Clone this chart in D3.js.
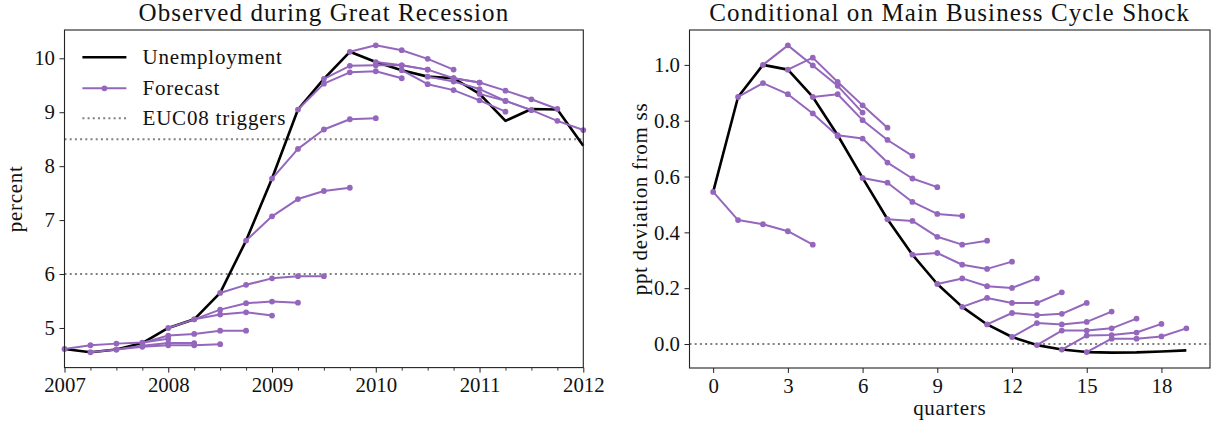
<!DOCTYPE html>
<html>
<head>
<meta charset="utf-8">
<script src="https://cdn.jsdelivr.net/npm/d3@7"></script>
<style>
  html, body { margin: 0; padding: 0; background: #fff; }
  svg text { font-family: "Liberation Serif", "DejaVu Serif", serif; fill: #111; }
</style>
</head>
<body>
<svg id="chart" width="1213" height="432"></svg>
<script>
// ---------------- DATA ----------------
// Left panel: observed quarterly unemployment rate (percent)
const leftQuarters = [2007.00, 2007.25, 2007.50, 2007.75, 2008.00, 2008.25, 2008.50, 2008.75,
  2009.00, 2009.25, 2009.50, 2009.75, 2010.00, 2010.25, 2010.50, 2010.75,
  2011.00, 2011.25, 2011.50, 2011.75, 2012.00];
const leftUnemployment = [4.61, 4.55, 4.60, 4.72, 5.00, 5.16, 5.65, 6.62,
  7.77, 9.05, 9.62, 10.12, 9.93, 9.78, 9.66, 9.63,
  9.34, 8.84, 9.06, 9.05, 8.38];
// Forecast origins (each forecast: origin quarter plus four quarters ahead)
const leftForecastStarts = [2007.00, 2007.25, 2007.50, 2007.75, 2008.00, 2008.25, 2008.50, 2008.75,
  2009.00, 2009.25, 2009.50, 2009.75, 2010.00, 2010.25, 2010.50, 2010.75, 2011.00];
const leftForecasts = [
  [4.61, 4.68, 4.71, 4.73, 4.80],
  [4.55, 4.60, 4.67, 4.72, 4.72],
  [4.60, 4.65, 4.68, 4.68, 4.70],
  [4.72, 4.86, 4.89, 4.95, 4.95],
  [5.00, 5.16, 5.25, 5.29, 5.23],
  [5.16, 5.34, 5.46, 5.49, 5.47],
  [5.65, 5.80, 5.92, 5.96, 5.96],
  [6.62, 7.07, 7.39, 7.54, 7.60],
  [7.77, 8.32, 8.68, 8.87, 8.89],
  [9.05, 9.53, 9.74, 9.76, 9.63],
  [9.62, 9.86, 9.87, 9.87, 9.79],
  [10.12, 10.24, 10.15, 9.99, 9.79],
  [9.93, 9.87, 9.79, 9.63, 9.55],
  [9.78, 9.52, 9.41, 9.22, 9.01],
  [9.66, 9.57, 9.43, 9.21, 9.04],
  [9.63, 9.55, 9.40, 9.24, 9.06],
  [9.34, 9.21, 9.04, 8.84, 8.67]
];
const leftTriggers = [8.5, 6.0];
const leftYearTicks = [2007, 2008, 2009, 2010, 2011, 2012];
const leftYTicks = [5, 6, 7, 8, 9, 10];

// Right panel: impulse response to main business cycle shock
const rightQuarters = [0, 1, 2, 3, 4, 5, 6, 7, 8, 9, 10, 11, 12, 13, 14, 15, 16, 17, 18, 19];
const rightIRF = [0.545, 0.885, 1.000, 0.983, 0.885, 0.748, 0.595, 0.447, 0.320, 0.215,
  0.133, 0.070, 0.025, -0.004, -0.020, -0.029, -0.031, -0.030, -0.027, -0.023];
const rightForecastStarts = [0, 1, 2, 3, 4, 5, 6, 7, 8, 9, 10, 11, 12, 13, 14, 15];
const rightForecasts = [
  [0.545, 0.444, 0.429, 0.404, 0.356],
  [0.885, 0.935, 0.895, 0.826, 0.745],
  [1.000, 1.070, 0.998, 0.925, 0.829],
  [0.983, 1.026, 0.939, 0.855, 0.775],
  [0.885, 0.895, 0.802, 0.731, 0.674],
  [0.748, 0.736, 0.650, 0.593, 0.562],
  [0.595, 0.578, 0.509, 0.466, 0.459],
  [0.447, 0.441, 0.384, 0.356, 0.370],
  [0.320, 0.326, 0.284, 0.269, 0.295],
  [0.215, 0.235, 0.207, 0.201, 0.235],
  [0.133, 0.165, 0.147, 0.147, 0.185],
  [0.070, 0.111, 0.103, 0.108, 0.147],
  [0.025, 0.075, 0.070, 0.079, 0.116],
  [-0.004, 0.048, 0.048, 0.056, 0.091],
  [-0.020, 0.030, 0.032, 0.041, 0.072],
  [-0.029, 0.019, 0.019, 0.027, 0.056]
];
const rightZero = [0.0];
const rightXTicks = [0, 3, 6, 9, 12, 15, 18];
const rightYTicks = [0.0, 0.2, 0.4, 0.6, 0.8, 1.0];

const legendLabels = ["Unemployment", "Forecast", "EUC08 triggers"];
const titles = ["Observed during Great Recession", "Conditional on Main Business Cycle Shock"];

// ---------------- STYLE ----------------
const PURPLE = "#9467bd";
const GRAY = "#808080";
const AX = "#222";
const TICKFONT = "20.8px";
const LABELFONT = "21px";

const svg = d3.select("#chart");
svg.append("rect").attr("width", 1213).attr("height", 432).attr("fill", "#fff");

function padDomain(vals, frac) {
  const lo = d3.min(vals), hi = d3.max(vals);
  const p = (hi - lo) * frac;
  return [lo - p, hi + p];
}

function drawPanel(cfg) {
  const g = svg.append("g");
  const x = d3.scaleLinear().domain(cfg.xDomain).range([cfg.left, cfg.right]);
  const y = d3.scaleLinear().domain(cfg.yDomain).range([cfg.bottom, cfg.top]);

  // reference dotted lines
  cfg.hlines.forEach(v => {
    g.append("line")
      .attr("x1", cfg.left).attr("x2", cfg.right)
      .attr("y1", y(v)).attr("y2", y(v))
      .attr("stroke", GRAY).attr("stroke-width", 2)
      .attr("stroke-dasharray", "2,3.2");
  });

  const line = d3.line().x(d => x(d[0])).y(d => y(d[1]));

  // main series
  g.append("path")
    .datum(cfg.xs.map((xv, i) => [xv, cfg.ys[i]]))
    .attr("d", line)
    .attr("fill", "none").attr("stroke", "#000")
    .attr("stroke-width", 2.6).attr("stroke-linejoin", "round");

  // forecasts
  cfg.fStarts.forEach((s, k) => {
    const idx = cfg.xs.indexOf(s);
    const pts = cfg.fVals[k].map((v, j) => [cfg.xs[idx + j], v]);
    g.append("path").datum(pts).attr("d", line)
      .attr("fill", "none").attr("stroke", PURPLE)
      .attr("stroke-width", 2).attr("stroke-linejoin", "round");
    g.selectAll(null).data(pts).enter().append("circle")
      .attr("cx", d => x(d[0])).attr("cy", d => y(d[1])).attr("r", 2.9)
      .attr("fill", PURPLE);
  });

  // axes
  const xAxis = d3.axisBottom(x).tickValues(cfg.xTicks).tickFormat(cfg.xFmt)
    .tickSize(5).tickSizeOuter(0).tickPadding(5);
  const gx = g.append("g").attr("transform", `translate(0,${cfg.bottom})`).call(xAxis);
  const yAxis = d3.axisLeft(y).tickValues(cfg.yTicks).tickFormat(cfg.yFmt)
    .tickSize(5).tickSizeOuter(0).tickPadding(4.5);
  const gy = g.append("g").attr("transform", `translate(${cfg.left},0)`).call(yAxis);
  [gx, gy].forEach(a => {
    a.select(".domain").remove();
    a.selectAll("line").attr("stroke", AX).attr("stroke-width", 1);
    a.selectAll("text").style("font-size", TICKFONT)
      .style("font-family", '"Liberation Serif", serif').attr("fill", "#111");
  });
  if (cfg.minorX) {
    const gm = g.append("g").attr("transform", `translate(0,${cfg.bottom})`)
      .call(d3.axisBottom(x).tickValues(cfg.minorX).tickSize(3).tickSizeOuter(0).tickFormat(""));
    gm.select(".domain").remove();
    gm.selectAll("line").attr("stroke", AX).attr("stroke-width", 0.9);
  }

  // frame
  g.append("rect")
    .attr("x", cfg.left).attr("y", cfg.top)
    .attr("width", cfg.right - cfg.left).attr("height", cfg.bottom - cfg.top)
    .attr("fill", "none").attr("stroke", AX).attr("stroke-width", 1.1);

  // title
  g.append("text").attr("x", (cfg.left + cfg.right) / 2).attr("y", 21)
    .attr("text-anchor", "middle").style("font-size", "25px")
    .style("letter-spacing", cfg.titleSpacing).text(cfg.title);

  // y label
  g.append("text")
    .attr("transform", `translate(${cfg.ylabelX},${(cfg.top + cfg.bottom) / 2}) rotate(-90)`)
    .attr("text-anchor", "middle").style("font-size", LABELFONT)
    .style("letter-spacing", "0.7px").text(cfg.ylabel);

  if (cfg.xlabel) {
    g.append("text").attr("x", (cfg.left + cfg.right) / 2).attr("y", 415)
      .attr("text-anchor", "middle").style("font-size", LABELFONT)
      .style("letter-spacing", "0.7px").text(cfg.xlabel);
  }
  return { g, x, y };
}

// ---------------- LEFT PANEL ----------------
const leftAll = leftUnemployment.concat(...leftForecasts);
const leftMinor = leftQuarters.filter(q => !leftYearTicks.includes(q));
const L = drawPanel({
  left: 64.5, right: 583.3, top: 30, bottom: 367.6,
  xDomain: [leftQuarters[0], leftQuarters[leftQuarters.length - 1]],
  yDomain: padDomain(leftAll, 0.05),
  xs: leftQuarters, ys: leftUnemployment,
  fStarts: leftForecastStarts, fVals: leftForecasts,
  hlines: leftTriggers,
  xTicks: leftYearTicks, xFmt: d3.format("d"),
  yTicks: leftYTicks, yFmt: d3.format("d"),
  minorX: leftMinor,
  title: titles[0], titleSpacing: "1.1px",
  ylabel: "percent", ylabelX: 22
});

// legend
const lg = L.g.append("g");
const legRows = [57.3, 88.3, 118.3];
const hx1 = 82.4, hx2 = 126.4, tx = 142.5;
lg.append("line").attr("x1", hx1).attr("x2", hx2).attr("y1", legRows[0]).attr("y2", legRows[0])
  .attr("stroke", "#000").attr("stroke-width", 2.6);
lg.append("line").attr("x1", hx1).attr("x2", hx2).attr("y1", legRows[1]).attr("y2", legRows[1])
  .attr("stroke", PURPLE).attr("stroke-width", 2);
lg.append("circle").attr("cx", (hx1 + hx2) / 2).attr("cy", legRows[1]).attr("r", 2.9).attr("fill", PURPLE);
lg.append("line").attr("x1", hx1).attr("x2", hx2).attr("y1", legRows[2]).attr("y2", legRows[2])
  .attr("stroke", GRAY).attr("stroke-width", 2).attr("stroke-dasharray", "2,3.2");
legendLabels.forEach((t, i) => {
  lg.append("text").attr("x", tx).attr("y", legRows[i] + 7)
    .style("font-size", LABELFONT).style("letter-spacing", "0.8px").text(t);
});

// ---------------- RIGHT PANEL ----------------
const rightAll = rightIRF.concat(...rightForecasts);
const xr = rightQuarters;
const xrPad = (xr[xr.length - 1] - xr[0]) * 0.05;
drawPanel({
  left: 689.5, right: 1210, top: 30, bottom: 368,
  xDomain: [xr[0] - xrPad, xr[xr.length - 1] + xrPad],
  yDomain: padDomain(rightAll, 0.05),
  xs: rightQuarters, ys: rightIRF,
  fStarts: rightForecastStarts, fVals: rightForecasts,
  hlines: rightZero,
  xTicks: rightXTicks, xFmt: d3.format("d"),
  yTicks: rightYTicks, yFmt: d3.format(".1f"),
  minorX: null,
  title: titles[1], titleSpacing: "1.1px",
  ylabel: "ppt deviation from ss", ylabelX: 647,
  xlabel: "quarters"
});
</script>
</body>
</html>
